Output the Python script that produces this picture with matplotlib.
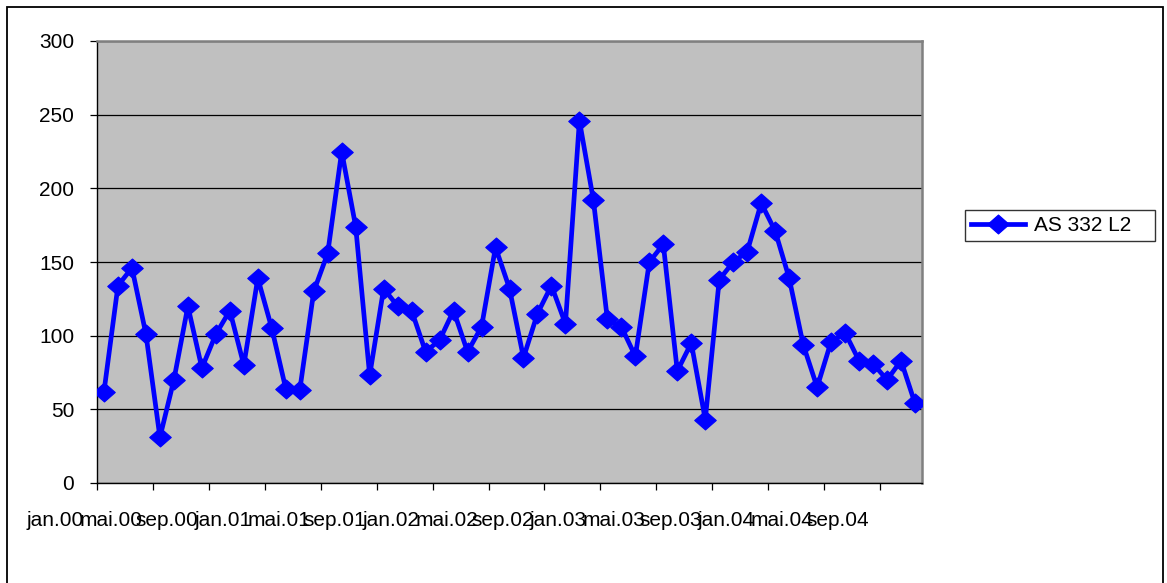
import matplotlib
matplotlib.use("Agg")
import matplotlib.pyplot as plt
from matplotlib.patches import Rectangle
from matplotlib.transforms import ScaledTranslation
from matplotlib.path import Path

plt.rcParams['font.family'] = ['Liberation Sans', 'DejaVu Sans']

# ---- data ----
series_name = "AS 332 L2"
values = [62, 134, 146, 101, 31, 70, 120, 78, 101, 117,
          80, 139, 105, 64, 63, 130, 156, 225, 174, 73,
          132, 120, 117, 89, 97, 117, 89, 106, 160, 132,
          85, 115, 134, 108, 246, 192, 111, 106, 86, 150,
          162, 76, 95, 43, 138, 150, 157, 190, 171, 139,
          94, 65, 96, 102, 83, 81, 70, 83, 54]
tick_labels = ["jan.00", "mai.00", "sep.00", "jan.01", "mai.01", "sep.01",
               "jan.02", "mai.02", "sep.02", "jan.03", "mai.03", "sep.03",
               "jan.04", "mai.04", "sep.04"]
y_ticks = [0, 50, 100, 150, 200, 250, 300]

W, H = 1167, 583
fig = plt.figure(figsize=(W / 100, H / 100), dpi=100)
fig.patch.set_facecolor("white")

# outer chart border (bottom edge runs off the image)
fig.add_artist(Rectangle((7 / W, -0.05), (1163 - 7) / W, 1.05 - 7 / H,
                         transform=fig.transFigure, fill=False,
                         edgecolor="black", linewidth=1.3))

ax = fig.add_axes([97 / W, 1 - 483 / H, 825 / W, 442 / H])
ax.set_facecolor("#C0C0C0")

x = list(range(len(values)))
diamond = Path([(-1.0, 0.0), (0.0, 0.88), (1.0, 0.0), (0.0, -0.88), (-1.0, 0.0)],
               [Path.MOVETO, Path.LINETO, Path.LINETO, Path.LINETO, Path.CLOSEPOLY])
ax.plot(x, values, color="#0000FF", linewidth=3.4, marker=diamond,
        markersize=15.5, markerfacecolor="#0000FF", markeredgecolor="#0000FF",
        markeredgewidth=0.8, label=series_name, zorder=3)

ax.set_xlim(-0.5, len(values) - 0.5)
ax.set_ylim(0, 300)
ax.set_yticks(y_ticks)
ax.set_yticklabels([str(v) for v in y_ticks])
ax.yaxis.grid(True, color="black", linewidth=0.9)
ax.set_axisbelow(True)

tick_pos = [-0.5 + 4 * k for k in range(len(tick_labels))]
ax.set_xticks(tick_pos)
ax.set_xticklabels(tick_labels)

ax.tick_params(axis="both", direction="out", length=5, width=0.9,
               color="black", labelsize=15, labelcolor="black")
ax.tick_params(axis="y", pad=11.5)
ax.tick_params(axis="x", pad=15)

offset = ScaledTranslation(-42 / 100, 0, fig.dpi_scale_trans)
for lab in ax.get_xticklabels():
    lab.set_transform(lab.get_transform() + offset)

for s in ("left", "bottom"):
    ax.spines[s].set_color("black")
    ax.spines[s].set_linewidth(1.0)
for s in ("top", "right"):
    ax.spines[s].set_color("#808080")
    ax.spines[s].set_linewidth(1.8)

leg = ax.legend(loc="upper left",
                bbox_to_anchor=(965 / W, 1 - 244 / H, 190 / W, 34 / H),
                bbox_transform=fig.transFigure, mode="expand",
                fontsize=15, frameon=True, fancybox=False, shadow=False,
                borderpad=0.3, handlelength=2.6, handletextpad=0.4,
                borderaxespad=0)
leg.get_frame().set_edgecolor("black")
leg.get_frame().set_linewidth(1.0)

fig.savefig("out.png", dpi=100)
